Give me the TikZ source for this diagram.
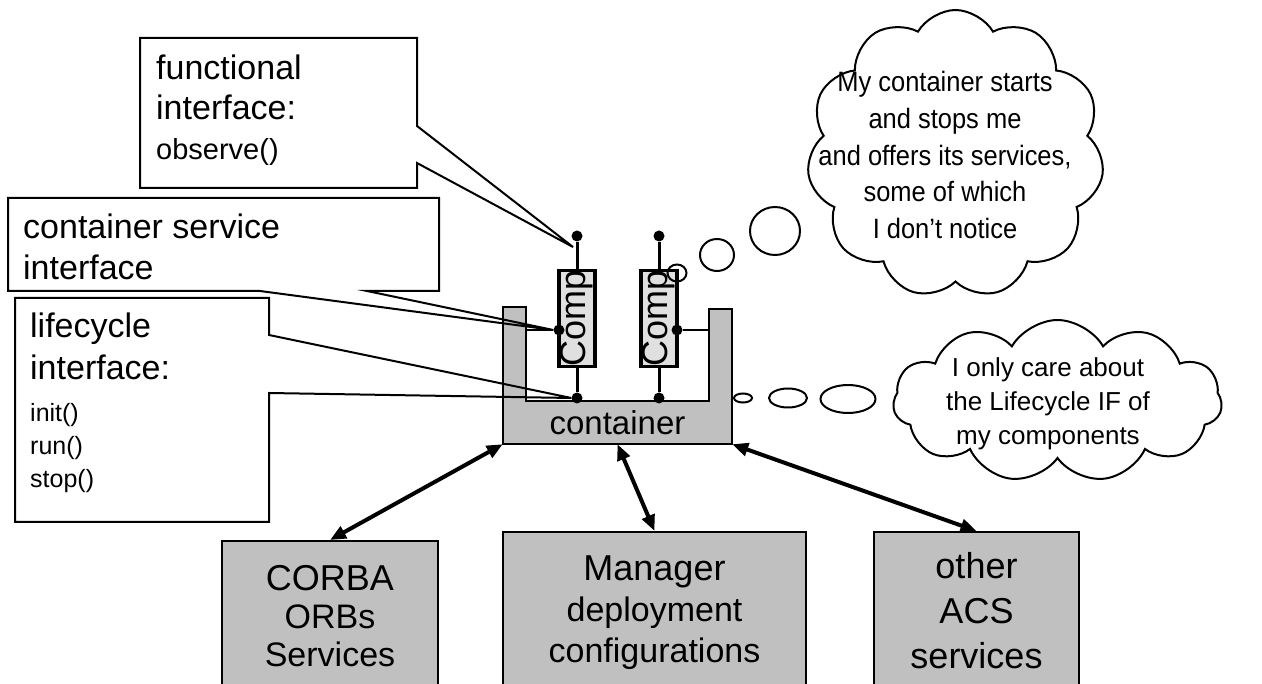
\documentclass[tikz,border=0pt]{standalone}
\usepackage{fontspec}
\setmainfont{Liberation Sans}
\usepackage{tikz}
\usetikzlibrary{shapes.geometric, shapes.symbols, arrows.meta}

\definecolor{contgray}{RGB}{192,192,192}
\definecolor{compgray}{RGB}{224,224,224}
\newcommand{\fs}[2]{\fontsize{#1}{#2}\selectfont}

\begin{document}
\begin{tikzpicture}[
    x=1pt, y=-1pt,
    callout/.style={draw, line width=2pt},
    label/.style={anchor=north west, inner sep=0pt, align=left},
    comp/.style={rectangle, draw, line width=3.5pt, fill=compgray, minimum width=36pt, minimum height=95pt, inner sep=0pt},
    dot/.style={circle, fill=black, inner sep=0pt, minimum size=11pt},
    stem/.style={line width=3pt},
    service/.style={rectangle, draw, line width=2pt, fill=contgray, anchor=north, align=center, inner sep=0pt},
    thought/.style={cloud, draw, line width=2pt, cloud puffs=11, cloud puff arc=120, cloud ignores aspect, inner sep=0pt},
    bubble/.style={ellipse, draw, line width=2pt, inner sep=0pt},
    biarrow/.style={{Triangle[length=16pt,width=13pt]}-{Triangle[length=16pt,width=13pt]}, line width=4pt}
]
    \useasboundingbox (0,0) rectangle (1262,684);
    \clip (0,0) rectangle (1262,684);

    % Container
    \draw[fill=contgray, line width=2pt] (503,307) -- (526,307) -- (526,401) -- (709,401) -- (709,309) -- (732,309) -- (732,444) -- (503,444) -- cycle;
    \node[minimum width=229pt, minimum height=43pt, inner sep=0pt, font=\fs{33}{40}] (container) at (617.5,422.5) {container};
    \coordinate (larm) at (526,330);
    \coordinate (rarm) at (709,330);

    % Components
    \node[comp] (comp1) at (577,318.5) {\rotatebox{90}{\fs{36}{40}Comp}};
    \node[comp] (comp2) at (659,318.5) {\rotatebox{90}{\fs{36}{40}Comp}};

    % Interface pins
    \node[dot] (c1top) at (577,236) {};
    \node[dot] (c1left) at (559,330) {};
    \node[dot] (c1bot) at (577,398) {};
    \node[dot] (c2top) at (659,236) {};
    \node[dot] (c2right) at (677,330) {};
    \node[dot] (c2bot) at (659,398) {};

    \draw[stem] (c1top) -- (comp1);
    \draw[stem] (comp1) -- (c1bot);
    \draw[stem] (c2top) -- (comp2);
    \draw[stem] (comp2) -- (c2bot);
    \draw[line width=2.5pt] (larm) -- (c1left);
    \draw[line width=2.5pt] (c2right) -- (rarm);

    % Callouts
    \coordinate (ftip) at (573,247);
    \draw[callout] (140,38) -- (417,38) -- (417,126) -- (ftip) -- (417,163) -- (417,188) -- (140,188) -- cycle;
    \node[label, font=\fs{34}{40}] (funcif) at (156,55) {functional\\interface:\\{\fs{29}{40}observe()}};

    \draw[callout] (8,198) -- (439,198) -- (439,291) -- (367,291) -- (c1left.west) -- (260,291) -- (8,291) -- cycle;
    \node[label, font=\fs{34}{41}] (servif) at (23,214) {container service\\interface};

    \draw[callout] (15,298) -- (269,298) -- (269,335) -- (c1bot.west) -- (269,393) -- (269,522) -- (15,522) -- cycle;
    \node[label, font=\fs{34}{33}] (lifeif) at (30,313) {lifecycle\\[9pt]interface:\\[9pt]{\fs{25}{33}init()}\\{\fs{25}{33}run()}\\{\fs{25}{33}stop()}};

    % Thoughts of a component
    \node[bubble, minimum width=19pt, minimum height=17pt] (b1) at (677,273) {};
    \node[bubble, minimum width=34pt, minimum height=32pt] (b2) at (717,255) {};
    \node[bubble, minimum width=50pt, minimum height=48pt] (b3) at (775,231) {};
    \node[thought, minimum width=297pt, minimum height=288pt] (bigcloud) at (955.5,154) {};
    \node[align=center, font=\fs{28}{36.75}\addfontfeature{FakeStretch=0.91}] (bigtext) at (945,155) {My container starts\\and stops me\\and offers its services,\\some of which\\I don’t notice};

    % Thoughts of the container
    \node[bubble, minimum width=18pt, minimum height=9pt] (s1) at (743,398) {};
    \node[bubble, minimum width=38pt, minimum height=19pt] (s2) at (788,398) {};
    \node[bubble, minimum width=55pt, minimum height=28pt] (s3) at (848,399) {};
    \node[thought, minimum width=329pt, minimum height=162pt] (smallcloud) at (1057.5,401) {};
    \node[align=center, font=\fs{26}{34}] (smalltext) at (1048,404) {I only care about\\the Lifecycle IF of\\my components};

    % Services below
    \node[service, minimum width=216pt, minimum height=150pt, font=\fs{34}{38}] (corba) at (330,540) {{\fs{36}{38}CORBA}\\ORBs\\Services};
    \node[service, minimum width=303pt, minimum height=161pt, font=\fs{34}{41}] (manager) at (654.5,531) {{\fs{36}{41}Manager}\\deployment\\configurations};
    \node[service, minimum width=205pt, minimum height=158pt, font=\fs{36}{45}] (other) at (976.5,531) {other\\ACS\\services};

    \draw[biarrow] (corba.north) -- (container.south west);
    \draw[biarrow] (container.south) -- (manager.north);
    \draw[biarrow] (container.south east) -- (other.north);
\end{tikzpicture}
\end{document}
